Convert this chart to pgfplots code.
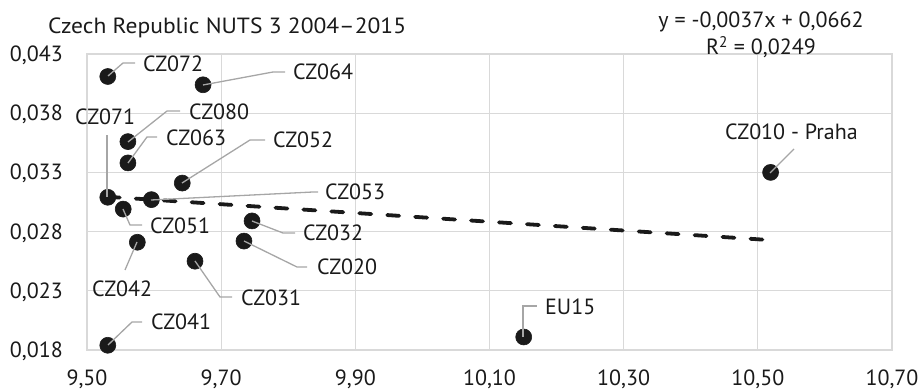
\documentclass[border=0pt]{standalone}
\usepackage{pgfplots}
\pgfplotsset{compat=1.18}
\usepackage{fontspec}
\setmainfont{PT Sans}
\definecolor{gridc}{HTML}{D9D9D9}
\definecolor{lead}{HTML}{A6A6A6}
\definecolor{ink}{HTML}{1A1A1A}
\begin{document}
\begin{tikzpicture}[font=\fontsize{22}{26}\selectfont, text=ink]
\useasboundingbox (0,0) rectangle (922pt,391pt);
\begin{axis}[at={(87pt,41pt)}, anchor=south west, scale only axis,
  width=805pt, height=296pt,
  xmin=9.5, xmax=10.7, ymin=0.018, ymax=0.043,
  scaled y ticks=false, scaled x ticks=false,
  xtick={9.5,9.7,9.9,10.1,10.3,10.5,10.7},
  xticklabels={{9,50},{9,70},{9,90},{10,10},{10,30},{10,50},{10,70}},
  ytick={0.018,0.023,0.028,0.033,0.038,0.043},
  yticklabels={{0,018},{0,023},{0,028},{0,033},{0,038},{0,043}},
  grid=major, major grid style={gridc, line width=1.2pt},
  axis line style={gridc, line width=1.2pt},
  major tick length=0pt, tick style={draw=none},
  xticklabel style={anchor=base, inner sep=0pt, yshift=-35.5pt, text=ink},
  yticklabel style={anchor=base east, inner sep=0pt, xshift=-24pt, yshift=-7.5pt, text=ink},
  clip=false,
]
\addplot[only marks, mark=*, mark size=8pt, mark options={fill=ink, draw=ink, line width=0.6pt}] coordinates {
 (9.531,0.0411) (9.673,0.0404) (9.561,0.0356) (9.561,0.0338) (9.642,0.0321)
 (9.531,0.0309) (9.596,0.0307) (9.554,0.0299) (9.746,0.0289) (9.575,0.0271)
 (9.734,0.0272) (9.661,0.0255) (9.531,0.0184) (10.151,0.0191) (10.519,0.0330)
};
\addplot[ink, line width=3.8pt, dash pattern=on 12pt off 16pt, line cap=round] coordinates {(9.531,0.03094) (10.519,0.02728)};
\end{axis}
\begin{scope}[x=1pt, y=-1pt, yshift=391pt]
 \tikzset{ld/.style={lead, line width=1.3pt}, lb/.style={anchor=base west, inner sep=0pt}}
 \draw[ld] (108,76) -- (123,63) -- (135,63);
 \node[lb] at (143,71.5) {CZ072};
 \draw[ld] (203,85) -- (273,72) -- (285,72);
 \node[lb] at (293,79.5) {CZ064};
 \draw[ld] (128,142) -- (167,111) -- (180,111);
 \node[lb] at (189,119.5) {CZ080};
 \draw[ld] (128,163) -- (147,137) -- (157,137);
 \node[lb] at (166,145.5) {CZ063};
 \draw[ld] (107,197) -- (107,135);
 \node[lb] at (75,124.5) {CZ071};
 \draw[ld] (182,183) -- (250,140) -- (265,140);
 \node[lb] at (273,147.5) {CZ052};
 \draw[ld] (151,200) -- (313,192) -- (318,192);
 \node[lb] at (325,199.5) {CZ053};
 \draw[ld] (123,209) -- (130,225) -- (142,225);
 \node[lb] at (150,233.5) {CZ051};
 \draw[ld] (252,221) -- (283,233) -- (295,233);
 \node[lb] at (303,240.5) {CZ032};
 \draw[ld] (244,241) -- (297,267) -- (307,267);
 \node[lb] at (317,274.5) {CZ020};
 \draw[ld] (137,242) -- (125,270);
 \node[lb] at (92,296.5) {CZ042};
 \draw[ld] (195,261) -- (220,297) -- (232,297);
 \node[lb] at (241,305.5) {CZ031};
 \draw[ld] (108,345) -- (132,322) -- (142,322);
 \node[lb] at (151,329.5) {CZ041};
 \draw[ld] (523,337) -- (523,306) -- (537,306);
 \node[lb] at (545,314.5) {EU15};
 \draw[ld] (770,173) -- (794,149);
 \node[lb] at (725,139.5) {CZ010 - Praha};
 \node[lb] at (48,33.5) {\scalebox{1.07}[1]{Czech Republic NUTS 3 2004–2015}};
 \node[anchor=base, inner sep=0pt] at (761,27.5) {y = -0,0037x + 0,0662};
 \node[anchor=base, inner sep=0pt] at (761,55) {R\textsuperscript{2} = 0,0249};
\end{scope}
\end{tikzpicture}
\end{document}
